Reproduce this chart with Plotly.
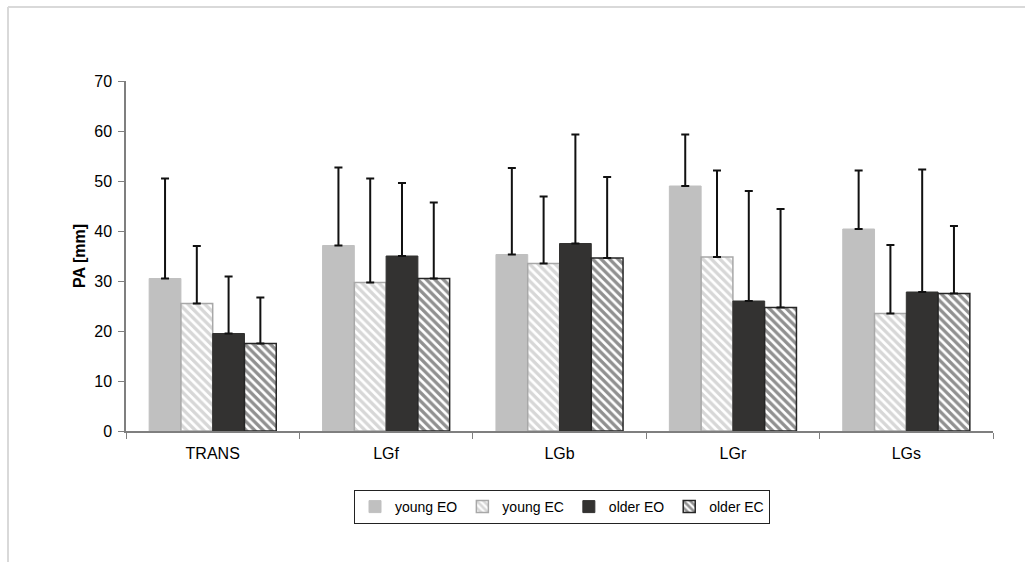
import plotly.graph_objects as go

# Postural sway amplitude (PA) per test condition
categories = ["TRANS", "LGf", "LGb", "LGr", "LGs"]

young_eo = [30.5, 37.1, 35.3, 49.0, 40.4]
young_eo_sd = [20.0, 15.6, 17.3, 10.3, 11.7]

young_ec = [25.5, 29.7, 33.5, 34.8, 23.5]
young_ec_sd = [11.5, 20.8, 13.4, 17.3, 13.7]

older_eo = [19.5, 35.0, 37.5, 26.0, 27.8]
older_eo_sd = [11.4, 14.6, 21.8, 22.0, 24.5]

older_ec = [17.5, 30.5, 34.6, 24.7, 27.5]
older_ec_sd = [9.2, 15.2, 16.2, 19.7, 13.5]

series_names = ["young EO", "young EC", "older EO", "older EC"]

W, H = 1025, 562
L, R, T, B = 126, 32, 81, 131
PW, PH = W - L - R, H - T - B


def px_to_paper(x, y):
    return (x - L) / PW, (H - B - y) / PH


def err(vals):
    return dict(type="data", array=vals, arrayminus=[0] * len(vals),
                symmetric=False, color="#111111", thickness=2, width=4)


fig = go.Figure()

fig.add_trace(go.Bar(
    name=series_names[0], x=categories, y=young_eo, error_y=err(young_eo_sd),
    marker=dict(color="#c0c0c0", line=dict(color="#c0c0c0", width=1)),
))
fig.add_trace(go.Bar(
    name=series_names[1], x=categories, y=young_ec, error_y=err(young_ec_sd),
    marker=dict(color="#ffffff", line=dict(color="#a8a8a8", width=1.5),
                pattern=dict(shape="\\", fgcolor="#b0b0b0", bgcolor="#ffffff",
                             size=6, solidity=0.55)),
))
fig.add_trace(go.Bar(
    name=series_names[2], x=categories, y=older_eo, error_y=err(older_eo_sd),
    marker=dict(color="#333231", line=dict(color="#333231", width=1)),
))
fig.add_trace(go.Bar(
    name=series_names[3], x=categories, y=older_ec, error_y=err(older_ec_sd),
    marker=dict(color="#ffffff", line=dict(color="#262626", width=1.5),
                pattern=dict(shape="\\", fgcolor="#222222", bgcolor="#ffffff",
                             size=6, solidity=0.55)),
))

# light grey frame around the chart area (open at right and bottom)
x0, y0 = px_to_paper(8, 7)
x1, y1 = px_to_paper(1040, 580)
fig.add_shape(type="line", xref="paper", yref="paper", x0=x0, y0=y0, x1=x1, y1=y0,
              line=dict(color="#d9d9d9", width=2))
fig.add_shape(type="line", xref="paper", yref="paper", x0=x0, y0=y0, x1=x0, y1=y1,
              line=dict(color="#d9d9d9", width=2))

lx, ly = px_to_paper(562, 490)

fig.update_layout(
    width=W, height=H,
    margin=dict(l=L, r=R, t=T, b=B, pad=0),
    paper_bgcolor="#ffffff", plot_bgcolor="#ffffff",
    font=dict(family="Liberation Sans, Arial, sans-serif", size=16, color="#000000"),
    barmode="group", bargap=0.267, bargroupgap=0,
    showlegend=True,
    legend=dict(orientation="h", x=lx, y=ly, xanchor="center", yanchor="top",
                bordercolor="#222222", borderwidth=1, bgcolor="#ffffff",
                font=dict(size=14), itemwidth=30, tracegroupgap=0,
                traceorder="normal"),
    xaxis=dict(showline=True, linecolor="#7f7f7f", linewidth=1.5,
               ticks="outside", ticklen=6, tickcolor="#7f7f7f",
               tickson="boundaries", showgrid=False, zeroline=False,
               ticklabelstandoff=7, tickfont=dict(size=16)),
    yaxis=dict(range=[0, 70], dtick=10, showline=True, linecolor="#7f7f7f",
               linewidth=1.5, ticks="outside", ticklen=6, tickcolor="#7f7f7f",
               showgrid=False, zeroline=False, tickfont=dict(size=16),
               ticklabelstandoff=3,
               title=dict(text="<b>PA [mm]</b>", font=dict(size=16), standoff=5)),
)

fig.write_html("out.html")
